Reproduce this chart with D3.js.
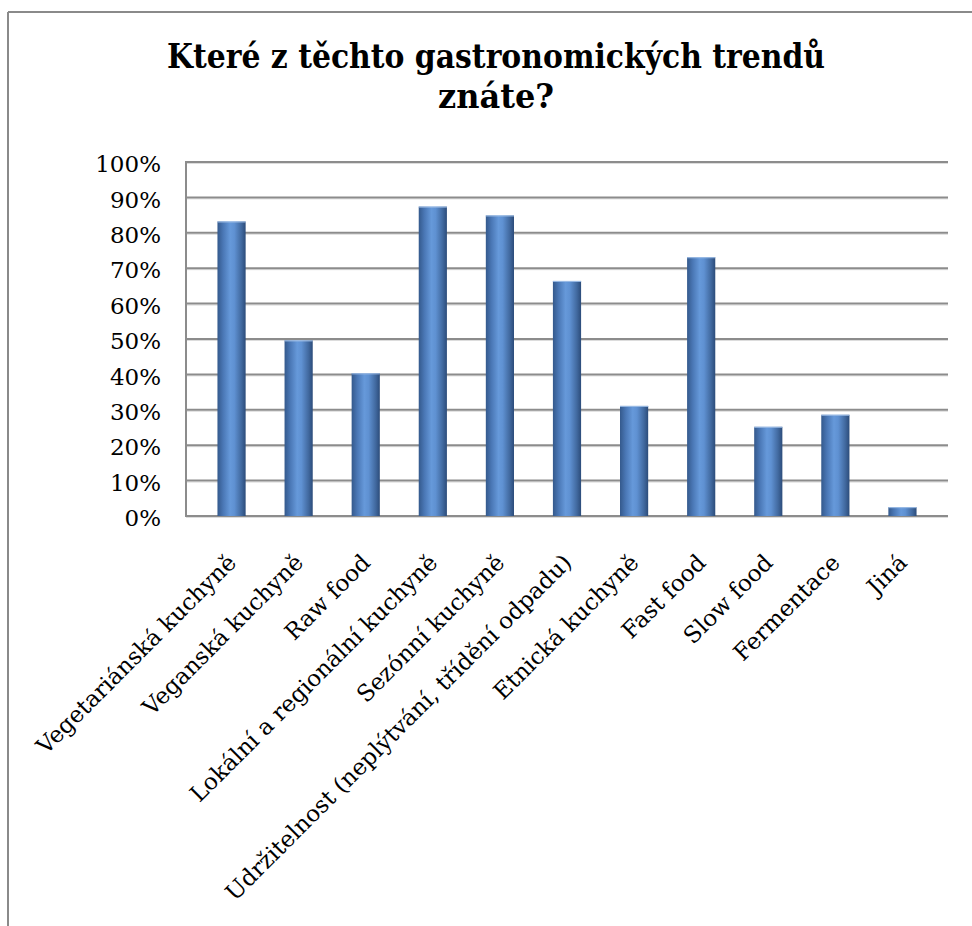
<!DOCTYPE html>
<html>
<head>
<meta charset="utf-8">
<script src="https://cdn.jsdelivr.net/npm/d3@7"></script>
<style>
  html, body { margin: 0; padding: 0; background: #fff; }
  svg { display: block; }
</style>
</head>
<body>
<svg id="chart" width="972" height="926"></svg>
<script>
// Survey answers: share of respondents who know each gastronomic trend
const categories = [
  "Vegetariánská kuchyně",
  "Veganská kuchyně",
  "Raw food",
  "Lokální a regionální kuchyně",
  "Sezónní kuchyně",
  "Udržitelnost (neplýtvání, třídění odpadu)",
  "Etnická kuchyně",
  "Fast food",
  "Slow food",
  "Fermentace",
  "Jiná"
];
const values = [0.832, 0.496, 0.403, 0.874, 0.849, 0.664, 0.311, 0.731, 0.252, 0.286, 0.025];
const yTicks = [0, 0.1, 0.2, 0.3, 0.4, 0.5, 0.6, 0.7, 0.8, 0.9, 1.0];
const titleLines = ["Které z těchto gastronomických trendů", "znáte?"];

const svg = d3.select("#chart");
const W = 972, H = 926;
const serif = "'DejaVu Serif', 'Liberation Serif', serif";

const plot = { left: 186, right: 948, top: 162, bottom: 516 };

// chart frame: only the top and left edges are visible
svg.append("line")
  .attr("x1", 8).attr("x2", W).attr("y1", 12).attr("y2", 12)
  .attr("stroke", "#8a8a8a").attr("stroke-width", 2);
svg.append("line")
  .attr("x1", 8).attr("x2", 8).attr("y1", 12).attr("y2", H)
  .attr("stroke", "#8a8a8a").attr("stroke-width", 2);

// title
const title = svg.append("text")
  .attr("font-family", serif)
  .attr("font-weight", "bold")
  .attr("font-size", 33)
  .attr("fill", "#000")
  .attr("text-anchor", "middle");
const titleWidths = [658, 116];
titleLines.forEach((t, i) => {
  title.append("tspan")
    .attr("x", 496)
    .attr("y", 68 + i * 40)
    .attr("textLength", titleWidths[i])
    .attr("lengthAdjust", "spacingAndGlyphs")
    .text(t);
});

// scales
const x = d3.scaleBand()
  .domain(categories)
  .range([plot.left + 12, plot.right - 12])
  .paddingInner(0.58)
  .paddingOuter(0.29);
const y = d3.scaleLinear().domain([0, 1]).range([plot.bottom, plot.top]);

// gridlines with a soft shadow underneath
const grid = svg.append("g");
grid.selectAll("line.shadow")
  .data(yTicks)
  .join("line")
  .attr("class", "shadow")
  .attr("x1", plot.left).attr("x2", plot.right)
  .attr("y1", d => y(d) + 1.5).attr("y2", d => y(d) + 1.5)
  .attr("stroke", "#dcdcdc").attr("stroke-width", 1);
grid.selectAll("line.main")
  .data(yTicks)
  .join("line")
  .attr("class", "main")
  .attr("x1", plot.left).attr("x2", plot.right)
  .attr("y1", d => y(d)).attr("y2", d => y(d))
  .attr("stroke", "#8c8c8c").attr("stroke-width", 2);

// value axis line
svg.append("line")
  .attr("x1", plot.left).attr("x2", plot.left)
  .attr("y1", plot.top - 1).attr("y2", plot.bottom + 1)
  .attr("stroke", "#8c8c8c").attr("stroke-width", 2);

// y axis labels
const yAxis = d3.axisLeft(y)
  .tickValues(yTicks)
  .tickFormat(d3.format(".0%"))
  .tickSize(0)
  .tickPadding(25);
const yg = svg.append("g")
  .attr("transform", `translate(${plot.left},0)`)
  .call(yAxis);
yg.select(".domain").remove();
yg.selectAll("text")
  .attr("font-family", serif)
  .attr("font-size", 23)
  .attr("fill", "#000")
  .attr("dy", "0.42em");

// cylinder-like horizontal shading for bars
const defs = svg.append("defs");
const grad = defs.append("linearGradient")
  .attr("id", "barGrad")
  .attr("x1", "0%").attr("x2", "100%").attr("y1", "0%").attr("y2", "0%");
[
  ["0%", "#34598c"],
  ["20%", "#4a77b5"],
  ["45%", "#6699da"],
  ["60%", "#5f91d2"],
  ["85%", "#41699f"],
  ["100%", "#2c4c7a"]
].forEach(([o, c]) => grad.append("stop").attr("offset", o).attr("stop-color", c));

const bw = x.bandwidth();
svg.append("g").selectAll("rect")
  .data(values)
  .join("rect")
  .attr("x", (d, i) => x(categories[i]))
  .attr("y", d => y(d))
  .attr("width", bw)
  .attr("height", d => y(0) - y(d))
  .attr("fill", "url(#barGrad)");
// light top edge on each bar
svg.append("g").selectAll("line")
  .data(values)
  .join("line")
  .attr("x1", (d, i) => x(categories[i]))
  .attr("x2", (d, i) => x(categories[i]) + bw)
  .attr("y1", d => y(d) + 0.5)
  .attr("y2", d => y(d) + 0.5)
  .attr("stroke", "#9dbde6").attr("stroke-width", 1);

// category labels rotated 45 degrees, ending under each bar
svg.append("g").selectAll("text")
  .data(categories)
  .join("text")
  .attr("font-family", serif)
  .attr("font-size", 23)
  .attr("fill", "#000")
  .attr("text-anchor", "end")
  .attr("transform", d => `translate(${x(d) + bw / 2 + 6},${plot.bottom + 48}) rotate(-45)`)
  .text(d => d);
</script>
</body>
</html>
